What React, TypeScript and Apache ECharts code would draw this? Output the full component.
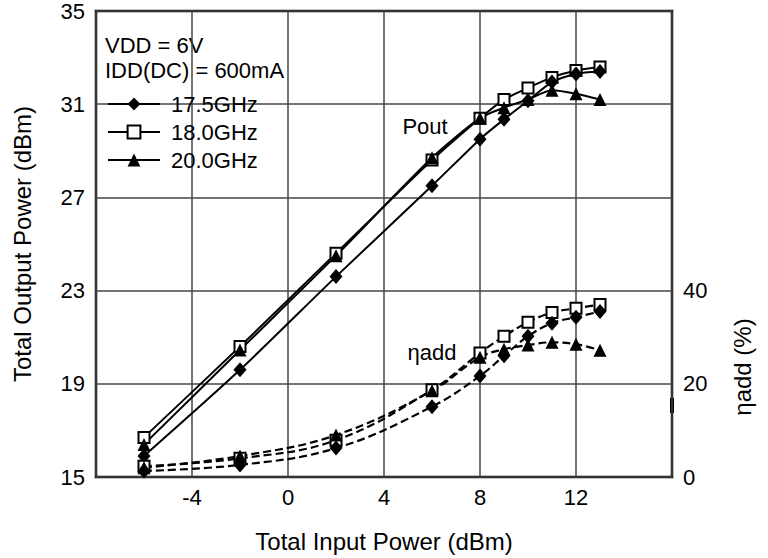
import React, { useEffect, useRef } from "react";
import * as echarts from "echarts";

const inputPower = [-6, -2, 2, 6, 8, 9, 10, 11, 12, 13];
const pout175 = [15.9, 19.6, 23.6, 27.5, 29.5, 30.35, 31.15, 31.95, 32.3, 32.4];
const pout180 = [16.7, 20.6, 24.6, 28.6, 30.4, 31.2, 31.7, 32.15, 32.45, 32.6];
const pout200 = [16.4, 20.45, 24.5, 28.7, 30.4, 30.85, 31.2, 31.6, 31.45, 31.2];
const eff175 = [1.3, 2.6, 6.2, 15.1, 21.7, 26.0, 30.2, 33.0, 34.3, 35.5];
const eff180 = [2.3, 4.0, 7.9, 18.7, 26.6, 30.2, 33.2, 35.3, 36.2, 37.0];
const eff200 = [2.0, 4.5, 9.0, 18.5, 25.7, 27.4, 28.3, 28.9, 28.5, 27.2];
const seriesNames = ["17.5GHz", "18.0GHz", "20.0GHz"];
const POUT_MIN = 15;
const POUT_MAX = 35;
const xTicksHidden = [-8, 16];

const FONT = "'Liberation Sans', Arial, Helvetica, sans-serif";

export default function App() {
  const ref = useRef<HTMLDivElement>(null);
  useEffect(() => {
    if (!ref.current) return;
    document.body.style.margin = "0";
    const chart = echarts.init(ref.current, undefined, { renderer: "svg" });
    const pts = (ys: number[], off: number) => inputPower.map((x, i) => [x, ys[i] - off]);

    const markers = [
      { symbol: "diamond", symbolSize: [13, 15], itemStyle: { color: "#000", borderColor: "#000", borderWidth: 0 } },
      { symbol: "rect", symbolSize: 11, itemStyle: { color: "#fff", borderColor: "#000", borderWidth: 2 } },
      { symbol: "triangle", symbolSize: 13, itemStyle: { color: "#000", borderColor: "#000", borderWidth: 0 } },
    ];
    const pouts = [pout175, pout180, pout200];
    const effs = [eff175, eff180, eff200];
    const order = [1, 0, 2];

    const series: any[] = [];
    order.forEach((k) => {
      series.push({
        name: seriesNames[k],
        type: "line",
        xAxisIndex: 0,
        yAxisIndex: 0,
        data: pts(pouts[k], POUT_MIN),
        smooth: 0.25,
        ...markers[k],
        lineStyle: { color: "#000", width: 2 },
        z: 3,
      });
    });
    order.forEach((k) => {
      series.push({
        name: "ηadd " + seriesNames[k],
        type: "line",
        xAxisIndex: 0,
        yAxisIndex: 1,
        data: pts(effs[k], 0),
        smooth: 0.4,
        ...markers[k],
        lineStyle: { color: "#000", width: 2.2, type: [8, 4] },
        z: 3,
      });
    });

    const option: any = {
      animation: false,
      backgroundColor: "#fff",
      textStyle: { fontFamily: FONT },
      grid: {
        left: 96,
        right: 96,
        top: 9,
        bottom: 80,
        show: true,
        borderColor: "#000",
        borderWidth: 2.5,
        backgroundColor: "transparent",
      },
      legend: {
        data: seriesNames,
        orient: "vertical",
        left: 107,
        top: 93,
        padding: 0,
        itemWidth: 52,
        itemHeight: 16,
        itemGap: 6,
        selectedMode: false,
        textStyle: { fontSize: 22, color: "#000", fontFamily: FONT, padding: [0, 0, 0, 6] },
      },
      xAxis: {
        type: "value",
        min: -8,
        max: 16,
        interval: 4,
        name: "Total Input Power (dBm)",
        nameLocation: "middle",
        nameGap: 52,
        nameTextStyle: { fontSize: 24, color: "#000", fontFamily: FONT },
        axisLine: { show: false },
        axisTick: { show: false },
        axisLabel: {
          fontSize: 22,
          color: "#000",
          fontFamily: FONT,
          margin: 9,
          formatter: (v: number) => (xTicksHidden.includes(v) ? "" : String(v)),
        },
        splitLine: { show: true, lineStyle: { color: "#444", width: 1.5 } },
      },
      yAxis: [
        {
          type: "value",
          min: 0,
          max: POUT_MAX - POUT_MIN,
          interval: 4,
          name: "Total Output Power (dBm)",
          nameLocation: "middle",
          nameGap: 62,
          nameTextStyle: { fontSize: 24, color: "#000", fontFamily: FONT },
          axisLine: { show: false },
          axisTick: { show: false },
          axisLabel: {
            fontSize: 22,
            color: "#000",
            fontFamily: FONT,
            margin: 11,
            formatter: (v: number) => String(v + POUT_MIN),
          },
          splitLine: { show: true, lineStyle: { color: "#444", width: 1.5 } },
        },
        {
          type: "value",
          min: 0,
          max: 100,
          interval: 20,
          position: "right",
          axisLine: { show: false },
          axisTick: { show: false },
          axisLabel: {
            fontSize: 22,
            color: "#000",
            fontFamily: FONT,
            margin: 11,
            formatter: (v: number) => (v <= 40 ? String(v) : ""),
          },
          splitLine: { show: false },
        },
      ],
      graphic: [
        {
          type: "text",
          left: 105,
          top: 33,
          style: {
            text: "VDD = 6V\nIDD(DC) = 600mA",
            fontSize: 22,
            lineHeight: 25,
            fontFamily: FONT,
            fill: "#000",
          },
        },
        {
          type: "text",
          x: 425,
          y: 126,
          style: { text: "Pout", fontSize: 22, fontFamily: FONT, fill: "#000", align: "center", verticalAlign: "middle" },
        },
        {
          type: "text",
          x: 432,
          y: 352,
          style: { text: "ηadd", fontSize: 22, fontFamily: FONT, fill: "#000", align: "center", verticalAlign: "middle" },
        },
        {
          type: "text",
          x: 742,
          y: 367,
          rotation: Math.PI / 2,
          style: { text: "ηadd (%)", fontSize: 24, fontFamily: FONT, fill: "#000", align: "center", verticalAlign: "middle" },
        },
        {
          type: "rect",
          shape: { x: 670, y: 398, width: 4, height: 15 },
          style: { fill: "#000" },
        },
      ],
      series,
    };
    chart.setOption(option);
    return () => chart.dispose();
  }, []);
  return <div ref={ref} style={{ width: 768, height: 558 }} />;
}
